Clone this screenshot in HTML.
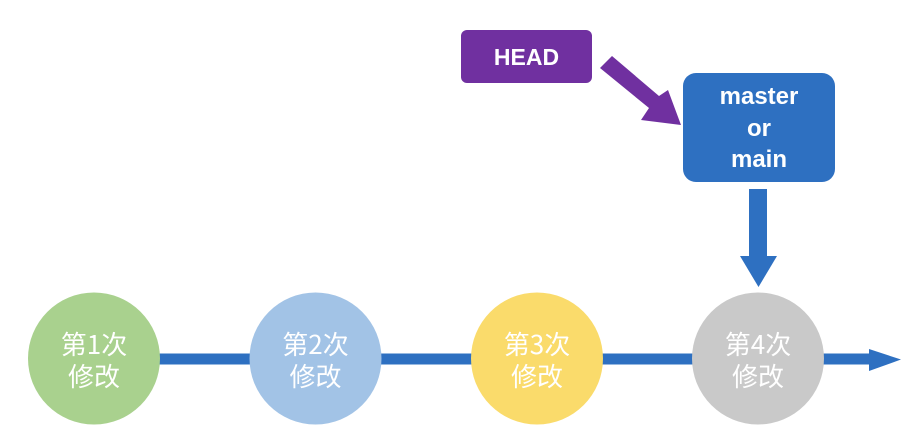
<!DOCTYPE html>
<html><head><meta charset="utf-8"><style>
body{margin:0;background:#fff;width:917px;height:432px;overflow:hidden}
</style></head><body>
<svg width="917" height="432" viewBox="0 0 917 432" xmlns="http://www.w3.org/2000/svg" font-family="'Liberation Sans','Noto Sans CJK SC',sans-serif">
<rect x="150" y="353.5" width="722" height="11" fill="#2E70C1"/>
<polygon points="869,349 901,359.5 869,371" fill="#2E70C1"/>
<circle cx="94" cy="358.5" r="66" fill="#A9D18E"/>
<circle cx="315.5" cy="358.5" r="66" fill="#A2C3E6"/>
<circle cx="537" cy="358.5" r="66" fill="#FADB6B"/>
<circle cx="758" cy="358.5" r="66" fill="#C9C9C9"/>
<g fill="#fff" font-size="26" text-anchor="middle" font-family="'Noto Sans CJK SC',sans-serif">
<text x="94" y="354">第1次</text><text x="94" y="386">修改</text>
<text x="315.5" y="354">第2次</text><text x="315.5" y="386">修改</text>
<text x="537" y="354">第3次</text><text x="537" y="386">修改</text>
<text x="758" y="354">第4次</text><text x="758" y="386">修改</text>
</g>
<rect x="461" y="30" width="131" height="53" rx="6" fill="#7030A0"/>
<text x="526.5" y="65" fill="#fff" font-size="23" font-weight="bold" text-anchor="middle">HEAD</text>
<polygon points="600,68 612,56 659,96 668,90 681,125 641,120 649,108" fill="#7030A0"/>
<rect x="683" y="73" width="152" height="109" rx="13" fill="#2E70C1"/>
<g fill="#fff" font-size="24" font-weight="bold" text-anchor="middle">
<text x="759" y="104">master</text><text x="759" y="136">or</text><text x="759" y="167">main</text>
</g>
<rect x="749" y="189" width="18" height="68" fill="#2E70C1"/>
<polygon points="740,256 777,256 758.5,287" fill="#2E70C1"/>
</svg>
</body></html>
